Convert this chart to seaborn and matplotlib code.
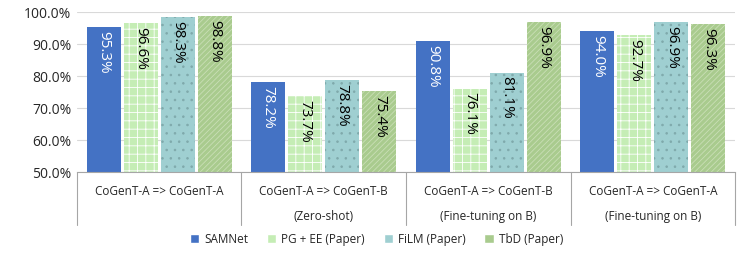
import matplotlib
matplotlib.use("Agg")
import matplotlib.pyplot as plt
import seaborn as sns
import pandas as pd

categories = ["CoGenT-A => CoGenT-A", "CoGenT-A => CoGenT-B\n(Zero-shot)",
              "CoGenT-A => CoGenT-B\n(Fine-tuning on B)", "CoGenT-A => CoGenT-A\n(Fine-tuning on B)"]
models = ["SAMNet", "PG + EE (Paper)", "FiLM (Paper)", "TbD (Paper)"]
samnet = [95.3, 78.2, 90.8, 94.0]
pg_ee = [96.6, 73.7, 76.1, 92.7]
film = [98.3, 78.8, 81.1, 96.9]
tbd = [98.8, 75.4, 96.9, 96.3]

colors = ["#4472C4", "#C5EDB5", "#9FCFD1", "#A9CB8E"]
hatches = [None, "++", "..", "//////"]
hatch_cols = [None, "white", "#7FA9AB", "#C9DFB6"]

rows = []
for m, vals in zip(models, [samnet, pg_ee, film, tbd]):
    for c, v in zip(categories, vals):
        rows.append({"cat": c, "model": m, "acc": v})
df = pd.DataFrame(rows)

sns.set_style("white")
plt.rcParams['font.family'] = ['Open Sans', 'DejaVu Sans']
plt.rcParams['hatch.linewidth'] = 0.6

fig = plt.figure(figsize=(7.47, 2.56), dpi=100)
ax = fig.add_axes([0.103, 0.328, 0.881, 0.625])
sns.barplot(data=df, x="cat", y="acc", hue="model", palette=colors,
            width=0.9, saturation=1, ax=ax, legend=True)

for i, cont in enumerate(ax.containers):
    for bar in cont:
        w = bar.get_width()
        bar.set_x(bar.get_x() + w * 0.04)
        bar.set_width(w * 0.92)
        bar.set_edgecolor(hatch_cols[i] if hatches[i] else colors[i])
        bar.set_linewidth(0)
        if hatches[i]:
            bar.set_hatch(hatches[i])
        h = bar.get_height()
        ax.text(bar.get_x() + bar.get_width() / 2, h - 1.2, f"{h:.1f}%",
                rotation=270, ha="center", va="top", fontsize=11,
                color="white" if i == 0 else "black")

ax.set_ylim(50, 100)
ax.set_yticks(range(50, 101, 10))
ax.set_yticklabels([f"{t:.1f}%" for t in range(50, 101, 10)], fontsize=10)
ax.yaxis.grid(True, color="#D9D9D9", linewidth=0.8)
ax.set_axisbelow(True)
ax.set_xlabel("")
ax.set_ylabel("")
ax.set_xticks([])
ax.set_xlim(-0.5, 3.5)
for s in ["top", "right", "left"]:
    ax.spines[s].set_visible(False)
ax.spines["bottom"].set_color("#A6A6A6")
ax.tick_params(axis="y", length=0, pad=4)

trans = ax.get_xaxis_transform()
for k in range(5):
    ax.plot([k - 0.5, k - 0.5], [0, -0.33], color="#A6A6A6", lw=0.8,
            transform=trans, clip_on=False)
for k, c in enumerate(categories):
    lines = c.split("\n")
    ax.text(k, -0.12, lines[0], transform=trans, ha="center", va="center", fontsize=8.5)
    if len(lines) > 1:
        ax.text(k, -0.28, lines[1], transform=trans, ha="center", va="center", fontsize=8.5)

handles, labels = ax.get_legend_handles_labels()
ax.legend(handles, labels, loc="center", bbox_to_anchor=(0.455, -0.42), ncol=4,
          frameon=False, fontsize=8.5, handlelength=0.8, handleheight=0.8,
          columnspacing=1.6, handletextpad=0.4)

fig.savefig("out.png", dpi=100)
